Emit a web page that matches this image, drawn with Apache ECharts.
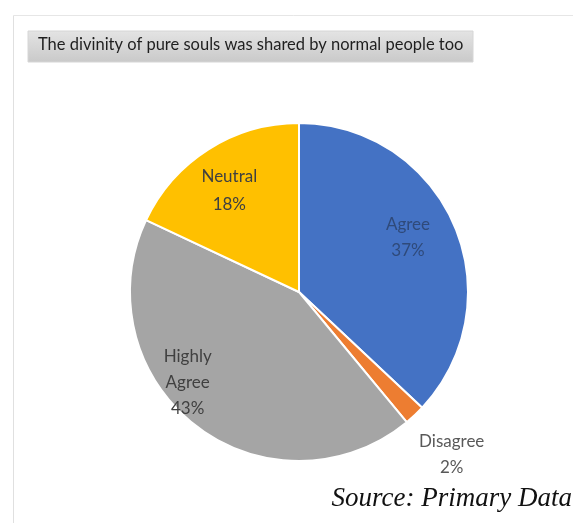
<!DOCTYPE html>
<html>
<head>
<meta charset="utf-8">
<script src="https://cdn.jsdelivr.net/npm/echarts@6/dist/echarts.min.js"></script>
<style>
  html, body { margin: 0; padding: 0; background: #ffffff; }
  #chart { width: 573px; height: 523px; }
</style>
</head>
<body>
<div id="chart"></div>
<script>
// Survey answers and their shares (percent)
const categories = ['Agree', 'Disagree', 'Highly Agree', 'Neutral'];
const shares = [37, 2, 43, 18];
const sliceColors = ['#4472C4', '#ED7D31', '#A5A5A5', '#FFC000'];
const labelText = ['Agree\n37%', 'Disagree\n2%', 'Highly\nAgree\n43%', 'Neutral\n18%'];

const titleText = 'The divinity of pure souls was shared by normal people too';
const sourceText = 'Source: Primary Data';

// Pie geometry
const CX = 299, CY = 292, R = 169;
// Label placement: distance from centre as a fraction of the radius,
// plus an angular nudge (degrees, clockwise) for the best-fit spot.
const labelRadius = [0.72, 1.32, 0.85, 0.73];
const labelNudge = [-3, 0, 13, -2];

const total = shares.reduce((a, b) => a + b, 0);
const midAngles = [];
let acc = 0;
shares.forEach(v => {
  midAngles.push((acc + v / 2) / total * 360);
  acc += v;
});

const chart = echarts.init(document.getElementById('chart'), null, { renderer: 'canvas' });

chart.setOption({
  backgroundColor: '#ffffff',
  animation: false,
  graphic: [
    // outer frame edges
    { type: 'line', shape: { x1: 13.5, y1: 15.5, x2: 573, y2: 15.5 }, style: { stroke: '#e6e6e6', lineWidth: 1 }, silent: true },
    { type: 'line', shape: { x1: 13.5, y1: 15.5, x2: 13.5, y2: 523 }, style: { stroke: '#e0e0e0', lineWidth: 1 }, silent: true },
    // title band
    {
      type: 'rect',
      shape: { x: 28, y: 31, width: 445, height: 31 },
      style: {
        fill: new echarts.graphic.LinearGradient(0, 0, 0, 1, [
          { offset: 0, color: '#e4e4e4' },
          { offset: 1, color: '#c9c9c9' }
        ]),
        stroke: '#d6d6d6',
        lineWidth: 1
      },
      z: 0,
      silent: true
    }
  ],
  title: [
    {
      text: titleText,
      left: 38,
      top: 36,
      padding: 0,
      textStyle: { fontFamily: 'Lato', fontSize: 16.5, fontWeight: 'normal', color: '#1f1f1f' },
      z: 5
    },
    {
      text: sourceText,
      right: 1,
      top: 485,
      padding: 0,
      textStyle: { fontFamily: 'Liberation Serif', fontStyle: 'italic', fontSize: 27, fontWeight: 'normal', color: '#111111' }
    }
  ],
  series: [{
    type: 'pie',
    center: [CX, CY],
    radius: R,
    startAngle: 90,
    clockwise: true,
    avoidLabelOverlap: false,
    itemStyle: { borderColor: '#ffffff', borderWidth: 2 },
    label: {
      show: true,
      position: 'inside',
      fontFamily: 'Lato',
      fontSize: 17,
      lineHeight: 26,
      color: '#404040',
      align: 'center',
      formatter: p => labelText[p.dataIndex]
    },
    labelLine: { show: false },
    labelLayout: params => {
      const i = params.dataIndex;
      const a = (midAngles[i] + labelNudge[i]) * Math.PI / 180;
      const d = labelRadius[i] * R;
      return {
        x: CX + d * Math.sin(a),
        y: CY - d * Math.cos(a),
        align: 'center',
        verticalAlign: 'middle'
      };
    },
    data: categories.map((name, i) => ({
      name: name,
      value: shares[i],
      itemStyle: { color: sliceColors[i] },
      label: i === 1 ? { color: '#595959' } : (i === 0 ? { color: '#2f4a7a' } : (i === 3 ? { lineHeight: 28 } : {}))
    }))
  }]
});
</script>
</body>
</html>
